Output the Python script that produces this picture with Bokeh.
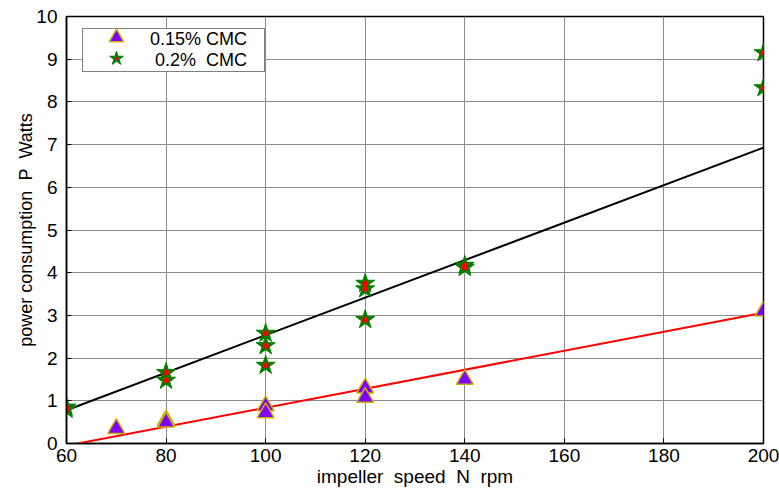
from bokeh.plotting import figure
from bokeh.models import Legend, LegendItem, Range1d, FixedTicker
from bokeh.embed import file_html
from bokeh.resources import INLINE

# Data
speed_015 = [70, 80, 80, 100, 100, 120, 120, 140, 200]
power_015 = [0.35, 0.55, 0.50, 0.88, 0.72, 1.30, 1.08, 1.50, 3.10]

speed_02 = [60, 60, 80, 80, 100, 100, 100, 120, 120, 120, 140, 140, 200, 200]
power_02 = [0.85, 0.80, 1.66, 1.48, 2.58, 2.29, 1.83, 3.75, 3.62, 2.90, 4.17, 4.12, 9.15, 8.33]

fit_x = [60, 200]
fit_02 = [0.78, 6.93]
fit_015 = [-0.05, 3.06]

x_ticks = [60, 80, 100, 120, 140, 160, 180, 200]
y_ticks = [0, 1, 2, 3, 4, 5, 6, 7, 8, 9, 10]

labels = ["0.15% CMC", "\u00a00.2%\u00a0 CMC"]

FONT = "Liberation Sans"

p = figure(width=779, height=489, output_backend="svg", toolbar_location=None,
           x_range=Range1d(60, 200), y_range=Range1d(0, 10),
           min_border_left=66, min_border_right=16, min_border_top=16, min_border_bottom=46)
p.background_fill_color = "white"
p.border_fill_color = "white"
p.outline_line_color = "black"
p.outline_line_width = 1.5

p.xaxis.ticker = FixedTicker(ticks=x_ticks)
p.yaxis.ticker = FixedTicker(ticks=y_ticks)
for ax in (p.xaxis[0], p.yaxis[0]):
    ax.major_tick_in = 5
    ax.major_tick_out = 0
    ax.minor_tick_line_color = None
    ax.axis_line_color = "black"
    ax.axis_line_width = 1.5
    ax.major_label_text_font = FONT
    ax.major_label_text_font_size = "19px"
    ax.major_label_text_color = "black"
    ax.axis_label_text_font = FONT
    ax.axis_label_text_font_style = "normal"
    ax.axis_label_text_color = "black"
p.xaxis.axis_label = "impeller\u00a0 speed\u00a0 N\u00a0 rpm"
p.yaxis.axis_label = "power consumption\u00a0 P\u00a0 Watts"
p.xaxis.axis_label_text_font_size = "19px"
p.yaxis.axis_label_text_font_size = "18px"
p.xaxis.major_label_standoff = 5
p.yaxis.major_label_standoff = 9
p.xaxis.axis_label_standoff = 1
p.yaxis.axis_label_standoff = -3

p.xgrid.ticker = FixedTicker(ticks=x_ticks)
p.ygrid.ticker = FixedTicker(ticks=y_ticks)
p.grid.grid_line_color = "#8c8c8c"
p.grid.grid_line_width = 1

# Fit lines
p.line(fit_x, fit_02, line_color="black", line_width=2)
p.line(fit_x, fit_015, line_color="red", line_width=2)

# 0.15% CMC triangles
tri = p.scatter(speed_015, power_015, marker="triangle", size=17,
                fill_color="#7F00FF", line_color="#C8B400", line_width=1.5)
# 0.2% CMC stars with red centre
star = p.scatter(speed_02, power_02, marker="star", size=20,
                 fill_color="#008000", line_color="#008000", line_width=1)
dot = p.scatter(speed_02, power_02, marker="dot", size=24,
                line_color="red", fill_color="red")

# invisible glyph so the text legend carries only labels and the box
blank = p.scatter(x=[], y=[], marker="circle", size=1, fill_alpha=0, line_alpha=0)

box_legend = Legend(items=[LegendItem(label=labels[0], renderers=[blank]),
                           LegendItem(label=labels[1], renderers=[blank])],
                    location=(16, 371))
box_legend.label_text_font = FONT
box_legend.label_text_font_size = "18px"
box_legend.label_text_color = "black"
box_legend.border_line_color = "black"
box_legend.border_line_width = 1.2
box_legend.background_fill_alpha = 1
box_legend.glyph_width = 67
box_legend.glyph_height = 21
box_legend.label_height = 21
box_legend.label_width = 114
box_legend.spacing = 0
box_legend.padding = 0
box_legend.margin = 0
box_legend.label_standoff = 0
p.add_layout(box_legend)

# large legend glyphs, one per row
def glyph_legend(renderers, loc):
    lg = Legend(items=[LegendItem(label=" ", renderers=renderers)], location=loc)
    lg.border_line_color = None
    lg.background_fill_alpha = 0
    lg.glyph_width = 36
    lg.glyph_height = 36
    lg.label_height = 36
    lg.label_width = 0
    lg.label_standoff = 0
    lg.label_text_font_size = "1px"
    lg.padding = 0
    lg.margin = 0
    lg.spacing = 0
    return lg

p.add_layout(glyph_legend([tri], (32, 388)))
p.add_layout(glyph_legend([star, dot], (32, 367)))

open("out.html", "w").write(file_html(p, INLINE))
